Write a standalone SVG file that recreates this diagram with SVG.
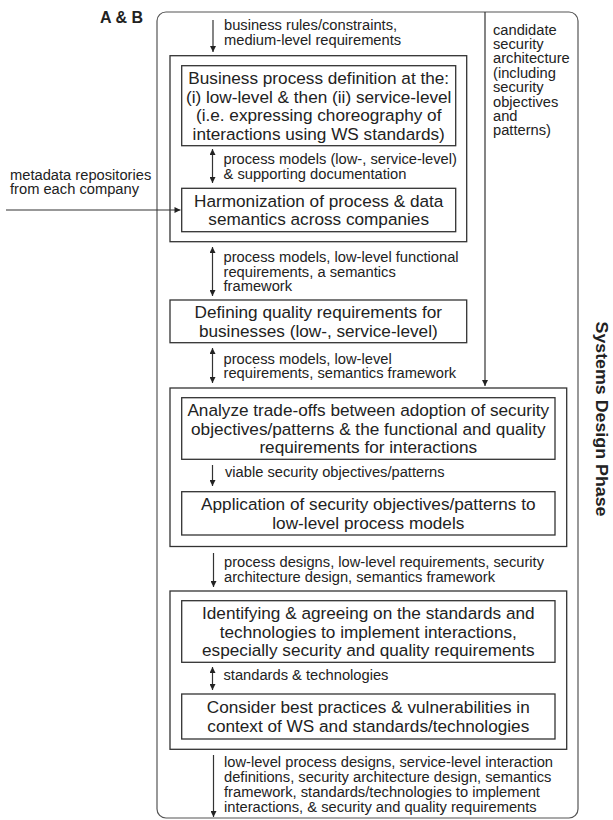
<svg xmlns="http://www.w3.org/2000/svg" width="613" height="820" viewBox="0 0 613 820">
<style>
.frame{fill:none;stroke:#555;stroke-width:1.2}
.grp{fill:none;stroke:#333;stroke-width:1.3}
.box{fill:#fff;stroke:#333;stroke-width:1.3}
.c{fill:none;stroke:#333;stroke-width:1.2}
.t{font-family:"Liberation Sans",Arial,sans-serif;font-size:17.2px;fill:#222;text-anchor:middle}
.l{font-family:"Liberation Sans",Arial,sans-serif;font-size:14.7px;fill:#222}
.b{font-family:"Liberation Sans",Arial,sans-serif;font-weight:bold;fill:#222}
</style>
<defs>
<marker id="ah" viewBox="0 0 10 10" refX="10" refY="5" markerUnits="userSpaceOnUse" markerWidth="8" markerHeight="6" orient="auto-start-reverse">
<path d="M0,0 L10,5 L0,10 z" fill="#222"/>
</marker>
</defs>

<g id="frame">
<rect class="frame" x="157" y="12" width="421" height="806" rx="9"/>
<text class="b" x="100" y="23" font-size="16">A &amp; B</text>
<text class="b" font-size="17" text-anchor="middle" textLength="195" lengthAdjust="spacingAndGlyphs" transform="translate(596,419) rotate(90)">Systems Design Phase</text>
</g>

<g id="group1">
<rect class="grp" x="170" y="55.7" width="296.7" height="186"/>
</g>
<g id="n-business-process">
<rect class="box" x="181.7" y="65.7" width="274" height="80"/>
<text class="t" x="318.7" y="84.1">Business process definition at the:</text>
<text class="t" x="318.7" y="102.6">(i) low-level &amp; then (ii) service-level</text>
<text class="t" x="318.7" y="121.1">(i.e. expressing choreography of</text>
<text class="t" x="318.7" y="139.6">interactions using WS standards)</text>
</g>
<g id="n-harmonization">
<rect class="box" x="181.7" y="188.3" width="274" height="43.4"/>
<text class="t" x="318.7" y="206.9">Harmonization of process &amp; data</text>
<text class="t" x="318.7" y="225.4">semantics across companies</text>
</g>
<g id="n-quality">
<rect class="box" x="170" y="300" width="296.7" height="42.7"/>
<text class="t" x="318.3" y="318.2">Defining quality requirements for</text>
<text class="t" x="318.3" y="336.7">businesses (low-, service-level)</text>
</g>
<g id="group2">
<rect class="grp" x="170" y="388" width="396.7" height="158.5"/>
</g>
<g id="n-analyze">
<rect class="box" x="181.7" y="397.7" width="373.3" height="61.6"/>
<text class="t" x="368.3" y="416.2">Analyze trade-offs between adoption of security</text>
<text class="t" x="368.3" y="434.7">objectives/patterns &amp; the functional and quality</text>
<text class="t" x="368.3" y="453.2">requirements for interactions</text>
</g>
<g id="n-application">
<rect class="box" x="181.7" y="491.7" width="373.3" height="43.3"/>
<text class="t" x="368.3" y="510.2">Application of security objectives/patterns to</text>
<text class="t" x="368.3" y="528.7">low-level process models</text>
</g>
<g id="group3">
<rect class="grp" x="170" y="591" width="396.7" height="158.3"/>
</g>
<g id="n-identifying">
<rect class="box" x="181.7" y="600.7" width="373.3" height="61.6"/>
<text class="t" x="368.3" y="619.1">Identifying &amp; agreeing on the standards and</text>
<text class="t" x="368.3" y="637.6">technologies to implement interactions,</text>
<text class="t" x="368.3" y="656.1">especially security and quality requirements</text>
</g>
<g id="n-consider">
<rect class="box" x="181.7" y="694" width="373.3" height="45"/>
<text class="t" x="368.3" y="713.4">Consider best practices &amp; vulnerabilities in</text>
<text class="t" x="368.3" y="731.9">context of WS and standards/technologies</text>
</g>

<g id="connectors">
<line class="c" x1="213" y1="20" x2="213" y2="52" marker-end="url(#ah)"/>
<line class="c" x1="485" y1="12" x2="485" y2="386" marker-end="url(#ah)"/>
<line class="c" x1="6" y1="210" x2="180.5" y2="210" marker-end="url(#ah)"/>
<line class="c" x1="212.5" y1="149" x2="212.5" y2="183" marker-start="url(#ah)" marker-end="url(#ah)"/>
<line class="c" x1="212.5" y1="247" x2="212.5" y2="296" marker-start="url(#ah)" marker-end="url(#ah)"/>
<line class="c" x1="212.5" y1="348" x2="212.5" y2="383" marker-start="url(#ah)" marker-end="url(#ah)"/>
<line class="c" x1="212.5" y1="465" x2="212.5" y2="486" marker-end="url(#ah)"/>
<line class="c" x1="213.5" y1="553" x2="213.5" y2="587" marker-end="url(#ah)"/>
<line class="c" x1="212.5" y1="667" x2="212.5" y2="690" marker-start="url(#ah)" marker-end="url(#ah)"/>
<line class="c" x1="213.5" y1="755" x2="213.5" y2="817" marker-end="url(#ah)"/>
</g>

<g id="labels">
<text class="l" x="224" y="29.5">business rules/constraints,</text>
<text class="l" x="224" y="45">medium-level requirements</text>
<text class="l" x="493" y="34.5">candidate</text>
<text class="l" x="493" y="48.9">security</text>
<text class="l" x="493" y="63.3">architecture</text>
<text class="l" x="493" y="77.7">(including</text>
<text class="l" x="493" y="92.1">security</text>
<text class="l" x="493" y="106.5">objectives</text>
<text class="l" x="493" y="120.9">and</text>
<text class="l" x="493" y="135.3">patterns)</text>
<text class="l" x="10" y="179.5">metadata repositories</text>
<text class="l" x="10" y="194">from each company</text>
<text class="l" x="223.5" y="164">process models (low-, service-level)</text>
<text class="l" x="223.5" y="178.5">&amp; supporting documentation</text>
<text class="l" x="223.5" y="262">process models, low-level functional</text>
<text class="l" x="223.5" y="276.5">requirements, a semantics</text>
<text class="l" x="223.5" y="291">framework</text>
<text class="l" x="223.5" y="363.5">process models, low-level</text>
<text class="l" x="223.5" y="378">requirements, semantics framework</text>
<text class="l" x="225" y="476.5">viable security objectives/patterns</text>
<text class="l" x="224" y="566.5">process designs, low-level requirements, security</text>
<text class="l" x="224" y="581.5">architecture design, semantics framework</text>
<text class="l" x="223.5" y="680">standards &amp; technologies</text>
<text class="l" x="224" y="766.5">low-level process designs, service-level interaction</text>
<text class="l" x="224" y="781.5">definitions, security architecture design, semantics</text>
<text class="l" x="224" y="796.5">framework, standards/technologies to implement</text>
<text class="l" x="224" y="811.5">interactions, &amp; security and quality requirements</text>
</g>
</svg>
